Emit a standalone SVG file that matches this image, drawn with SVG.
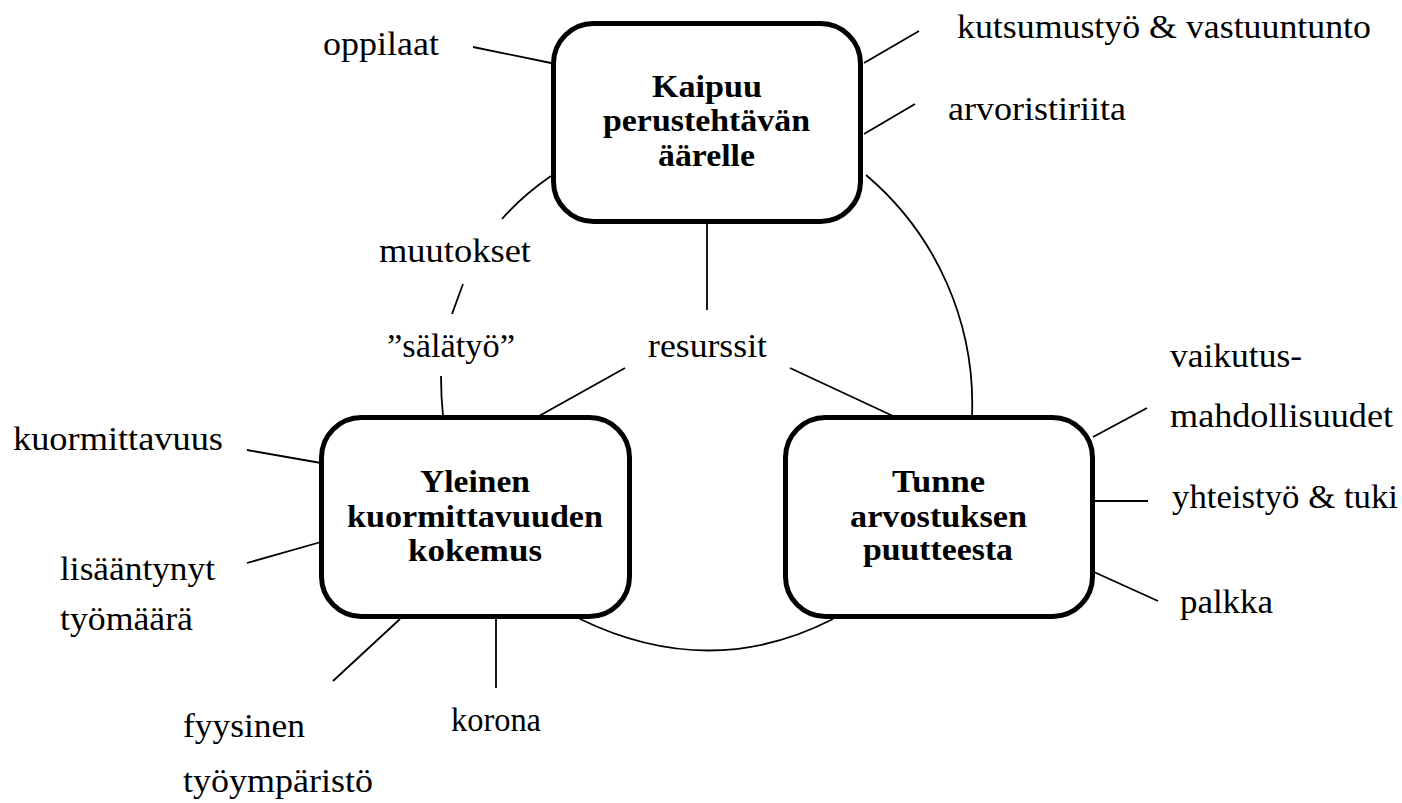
<svg xmlns="http://www.w3.org/2000/svg" width="1402" height="803" viewBox="0 0 1402 803">
<style>
.box{fill:#fff;stroke:#000;stroke-width:5}
.ln{fill:none;stroke:#000;stroke-width:1.8}
.t{font-family:"Liberation Serif","Times New Roman",serif;font-size:34px;fill:#000}
.b{font-family:"Liberation Serif","Times New Roman",serif;font-size:32px;font-weight:bold;fill:#000;text-anchor:middle}
</style>
<rect width="1402" height="803" fill="#fff"/>
<g id="connectors">
<line class="ln" x1="473" y1="47" x2="551" y2="63"/>
<line class="ln" x1="864" y1="63" x2="919" y2="31"/>
<line class="ln" x1="864" y1="134" x2="915" y2="104"/>
<path class="ln" d="M866,175 A300,300 0 0 1 972,416"/>
<path class="ln" d="M551,176 Q522,196 502,219"/>
<line class="ln" x1="463" y1="284" x2="452" y2="314"/>
<path class="ln" d="M441,376 Q441,396 443,416"/>
<line class="ln" x1="707" y1="223" x2="707" y2="310"/>
<line class="ln" x1="625" y1="368" x2="539" y2="416"/>
<line class="ln" x1="790" y1="368" x2="893" y2="416"/>
<line class="ln" x1="247" y1="450" x2="321" y2="463"/>
<line class="ln" x1="247" y1="563" x2="321" y2="542"/>
<line class="ln" x1="400" y1="619" x2="333" y2="681"/>
<line class="ln" x1="496" y1="619" x2="496" y2="688"/>
<path class="ln" d="M580,619 Q710,682 833,619"/>
<line class="ln" x1="1093" y1="437" x2="1147" y2="408"/>
<line class="ln" x1="1094" y1="501" x2="1148" y2="501"/>
<line class="ln" x1="1094" y1="572" x2="1158" y2="601"/>
</g>
<g id="node-kaipuu">
<rect class="box" x="553.5" y="23.5" width="307" height="198" rx="40"/>
<text class="b" x="707" y="97" textLength="110" lengthAdjust="spacingAndGlyphs">Kaipuu</text>
<text class="b" x="706.5" y="131" textLength="207" lengthAdjust="spacingAndGlyphs">perustehtävän</text>
<text class="b" x="706.5" y="166" textLength="97" lengthAdjust="spacingAndGlyphs">äärelle</text>
</g>
<g id="node-yleinen">
<rect class="box" x="321.5" y="417.5" width="308" height="199" rx="40"/>
<text class="b" x="475" y="492" textLength="110" lengthAdjust="spacingAndGlyphs">Yleinen</text>
<text class="b" x="475" y="527" textLength="256" lengthAdjust="spacingAndGlyphs">kuormittavuuden</text>
<text class="b" x="475" y="561" textLength="134" lengthAdjust="spacingAndGlyphs">kokemus</text>
</g>
<g id="node-tunne">
<rect class="box" x="785.5" y="417.5" width="307" height="199" rx="40"/>
<text class="b" x="938.5" y="492" textLength="93" lengthAdjust="spacingAndGlyphs">Tunne</text>
<text class="b" x="938.5" y="527" textLength="177" lengthAdjust="spacingAndGlyphs">arvostuksen</text>
<text class="b" x="938" y="560" textLength="150" lengthAdjust="spacingAndGlyphs">puutteesta</text>
</g>
<g id="labels">
<text class="t" x="323" y="55" textLength="116" lengthAdjust="spacingAndGlyphs">oppilaat</text>
<text class="t" x="957" y="38" textLength="414" lengthAdjust="spacingAndGlyphs">kutsumustyö &amp; vastuuntunto</text>
<text class="t" x="948" y="120" textLength="178" lengthAdjust="spacingAndGlyphs">arvoristiriita</text>
<text class="t" x="379" y="262" textLength="152" lengthAdjust="spacingAndGlyphs">muutokset</text>
<text class="t" x="387" y="357" textLength="128" lengthAdjust="spacingAndGlyphs">”sälätyö”</text>
<text class="t" x="648" y="357" textLength="119" lengthAdjust="spacingAndGlyphs">resurssit</text>
<text class="t" x="1170" y="367" textLength="132" lengthAdjust="spacingAndGlyphs">vaikutus-</text>
<text class="t" x="1170" y="427" textLength="223" lengthAdjust="spacingAndGlyphs">mahdollisuudet</text>
<text class="t" x="1172" y="508" textLength="226" lengthAdjust="spacingAndGlyphs">yhteistyö &amp; tuki</text>
<text class="t" x="1180" y="613" textLength="93" lengthAdjust="spacingAndGlyphs">palkka</text>
<text class="t" x="13" y="450" textLength="210" lengthAdjust="spacingAndGlyphs">kuormittavuus</text>
<text class="t" x="60" y="580" textLength="155" lengthAdjust="spacingAndGlyphs">lisääntynyt</text>
<text class="t" x="60" y="630" textLength="133" lengthAdjust="spacingAndGlyphs">työmäärä</text>
<text class="t" x="183" y="737" textLength="122" lengthAdjust="spacingAndGlyphs">fyysinen</text>
<text class="t" x="183" y="792" textLength="190" lengthAdjust="spacingAndGlyphs">työympäristö</text>
<text class="t" x="451" y="731" textLength="90" lengthAdjust="spacingAndGlyphs">korona</text>
</g>
</svg>
